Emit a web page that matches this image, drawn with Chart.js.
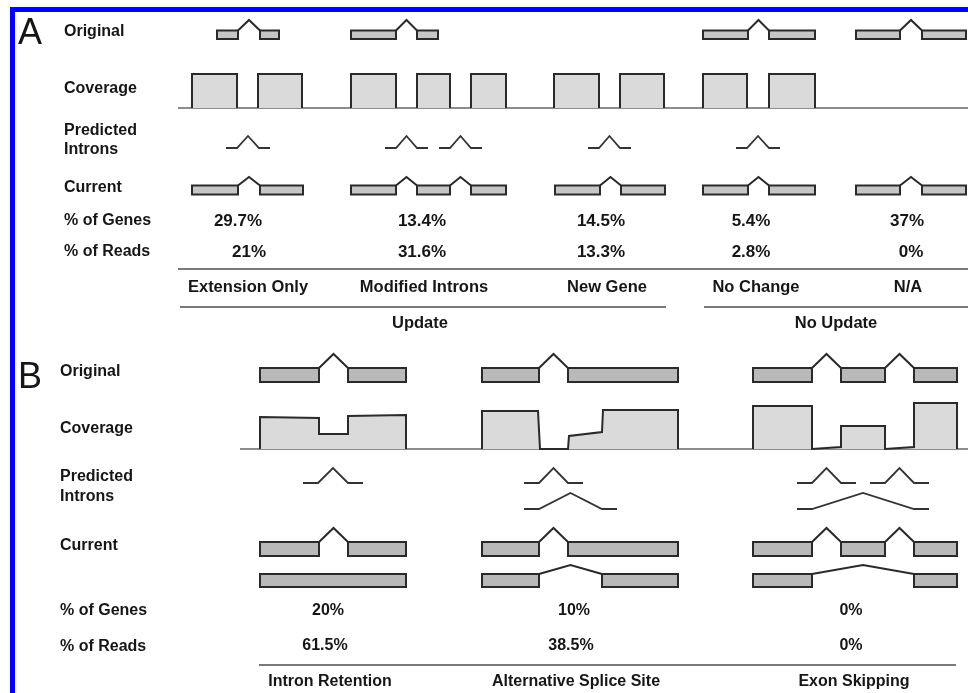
<!DOCTYPE html>
<html>
<head>
<meta charset="utf-8">
<script src="https://cdn.jsdelivr.net/npm/chart.js@4.4.1/dist/chart.umd.min.js"></script>
<style>
html,body{margin:0;padding:0;background:#fff;}
#wrap{width:968px;height:693px;position:relative;}
</style>
</head>
<body>
<div id="wrap"><canvas id="c" width="968" height="693"></canvas></div>
<script>
// ---------------- DATA ----------------
// Panel A
const categoriesA = ['Extension Only', 'Modified Introns', 'New Gene', 'No Change', 'N/A'];
const genesPctA = [29.7, 13.4, 14.5, 5.4, 37];
const readsPctA = [21, 31.6, 13.3, 2.8, 0];
const groupsA = ['Update', 'No Update'];
const rowLabelsA = ['Original', 'Coverage', 'Predicted', 'Introns', 'Current', '% of Genes', '% of Reads'];
// gene models (exon intervals in diagram units), one entry per category
const originalA = [[[217,238],[260,279]], [[351,396],[417,438]], [], [[703,748],[769,815]], [[856,900],[922,966]]];
const coverageA = [[[192,237],[258,302]], [[351,396],[417,450],[471,506]], [[554,599],[620,664]], [[703,747],[769,815]], []];
const coverageDepthA = 34;
const predictedA = [[[237,259]], [[396,417],[450,471]], [[599,620]], [[747,769]], []];
const currentA = [[[192,238],[260,303]], [[351,396],[417,450],[471,506]], [[555,600],[621,665]], [[703,748],[769,815]], [[856,900],[922,966]]];

// Panel B
const categoriesB = ['Intron Retention', 'Alternative Splice Site', 'Exon Skipping'];
const genesPctB = [20, 10, 0];
const readsPctB = [61.5, 38.5, 0];
const rowLabelsB = ['Original', 'Coverage', 'Predicted', 'Introns', 'Current', '% of Genes', '% of Reads'];
const originalB = [[[260,319],[348,406]], [[482,539],[568,678]], [[753,812],[841,885],[914,957]]];
// coverage profiles: [position, depth]
const coverageB = [
  [[260,0],[260,32],[319,31],[319,15],[348,15],[348,33],[406,34],[406,0]],
  [[482,0],[482,38],[538,38],[540,0],[568,0],[569,13],[602,17],[603,39],[678,39],[678,0]],
  [[753,0],[753,43],[812,43],[812,0],[841,2],[841,23],[885,23],[885,0],[914,2],[914,46],[957,46],[957,0]]
];
const predictedB1 = [[[318,348]], [[539,568]], [[812,841],[885,914]]];
const predictedB2 = [[], [[539,602]], [[812,914]]];
const currentB1 = originalB;
const currentB2 = [[[260,406]], [[482,539],[602,678]], [[753,812],[914,957]]];

// ---------------- LAYOUT (diagram units) ----------------
const L = {
  A: {
    orig: {top:30.5, bot:39, peak:20},
    cov: {base:108, x0:178},
    pred: {base:148, peak:136, flank:11},
    cur: {top:185.5, bot:194.5, peak:177},
    labelX: 64,
    labelY: [32, 88.5, 131, 149.5, 187.5, 221, 251.5],
    genesX: [238, 422, 601, 751, 907], genesY: 221,
    readsX: [249, 422, 601, 751, 911], readsY: 252,
    sep1: {y:269, x0:178, x1:968},
    catX: [248, 424, 607, 756, 908], catY: 287,
    sep2: [{y:307, x0:180, x1:666}, {y:307, x0:704, x1:968}],
    groupX: [420, 836], groupY: 323.5,
    letter: {x:18, y:34}
  },
  B: {
    orig: {top:368, bot:382, peak:354},
    cov: {base:449, x0:240},
    pred1: {base:483, peak:468, flank:15},
    pred2: {base:509, peak:493, flank:15},
    cur1: {top:542, bot:556, peak:528},
    cur2: {top:574, bot:587, peak:565},
    labelX: 60,
    labelY: [372, 428.5, 476.5, 496.5, 545.5, 611, 646.5],
    genesX: [328, 574, 851], genesY: 610.5,
    readsX: [325, 571, 851], readsY: 646,
    sep: {y:665, x0:259, x1:956},
    catX: [330, 576, 854], catY: 682,
    letter: {x:18, y:378.5}
  }
};

const EDGE = '#2a2a2a';
const EXON_A = '#c6c6c6';
const EXON_B = '#b9b9b9';
const COV = '#dadada';
const SEP = '#7a7a7a';

// ---------------- DATASET BUILDERS ----------------
const datasets = [];
function line(points, color, width, order) {
  datasets.push({
    data: points.map(p => ({x:p[0], y:p[1]})),
    showLine: true, pointRadius: 0, borderColor: color, borderWidth: width,
    fill: false, order: order || 0, borderJoinStyle: 'miter', tension: 0
  });
}
function filled(points, base, fillColor, order) {
  datasets.push({
    data: points.map(p => ({x:p[0], y:p[1]})),
    showLine: true, pointRadius: 0, borderColor: EDGE, borderWidth: 2,
    backgroundColor: fillColor, fill: {value: base}, order: order || 1,
    borderJoinStyle: 'miter', tension: 0
  });
}
function geneModel(exons, g, fillColor) {
  exons.forEach(e => {
    filled([[e[0],g.bot],[e[0],g.top],[e[1],g.top],[e[1],g.bot]], g.bot, fillColor, 1);
    line([[e[0]-1,g.bot],[e[1]+1,g.bot]], EDGE, 2, 0);
  });
  for (let i = 0; i + 1 < exons.length; i++) {
    const a = exons[i][1], b = exons[i+1][0];
    line([[a,g.top],[(a+b)/2,g.peak],[b,g.top]], EDGE, 2, 0);
  }
}
function junctions(introns, p) {
  introns.forEach(j => {
    const a = j[0], b = j[1];
    line([[a-p.flank,p.base],[a,p.base],[(a+b)/2,p.peak],[b,p.base],[b+p.flank,p.base]], '#333', 1.8, 0);
  });
}

// Panel A
originalA.forEach(ex => geneModel(ex, L.A.orig, EXON_A));
currentA.forEach(ex => geneModel(ex, L.A.cur, EXON_A));
predictedA.forEach(ints => junctions(ints, L.A.pred));
coverageA.forEach(ex => ex.forEach(e => {
  const b = L.A.cov.base, t = b - coverageDepthA;
  filled([[e[0],b],[e[0],t],[e[1],t],[e[1],b]], b, COV, 1);
}));
line([[L.A.cov.x0, L.A.cov.base],[968, L.A.cov.base]], '#666', 1.4, 5);
line([[L.A.sep1.x0, L.A.sep1.y],[L.A.sep1.x1, L.A.sep1.y]], SEP, 2.2, 5);
L.A.sep2.forEach(s => line([[s.x0,s.y],[s.x1,s.y]], SEP, 2.2, 5));

// Panel B
originalB.forEach(ex => geneModel(ex, L.B.orig, EXON_B));
currentB1.forEach(ex => geneModel(ex, L.B.cur1, EXON_B));
currentB2.forEach(ex => geneModel(ex, L.B.cur2, EXON_B));
predictedB1.forEach(ints => junctions(ints, L.B.pred1));
predictedB2.forEach(ints => junctions(ints, L.B.pred2));
coverageB.forEach(prof => {
  const b = L.B.cov.base;
  filled(prof.map(p => [p[0], b - p[1]]), b, COV, 1);
});
line([[L.B.cov.x0, L.B.cov.base],[968, L.B.cov.base]], '#666', 1.4, 5);
line([[L.B.sep.x0, L.B.sep.y],[L.B.sep.x1, L.B.sep.y]], SEP, 2.2, 5);

// blue frame
line([[12.5,693],[12.5,9.5],[968,9.5]], '#0000ff', 5, 6);

// ---------------- TEXT PLUGIN ----------------
const pct = v => v + '%';
const FONT16 = 'bold 16px "Liberation Sans", Arial, sans-serif';
const FONT17 = 'bold 17px "Liberation Sans", Arial, sans-serif';
const FONT165 = 'bold 16.5px "Liberation Sans", Arial, sans-serif';
const textPlugin = {
  id: 'texts',
  afterDatasetsDraw(chart) {
    const ctx = chart.ctx, xs = chart.scales.x, ys = chart.scales.y;
    const T = (s, x, y, align, font) => {
      ctx.font = font || FONT16;
      ctx.textAlign = align || 'center';
      ctx.textBaseline = 'middle';
      ctx.fillStyle = '#161616';
      ctx.fillText(s, xs.getPixelForValue(x), ys.getPixelForValue(y));
    };
    ctx.save();
    const big = '36px "Liberation Sans", Arial, sans-serif';
    T('A', L.A.letter.x, L.A.letter.y, 'left', big);
    T('B', L.B.letter.x, L.B.letter.y, 'left', big);
    rowLabelsA.forEach((s, i) => T(s, L.A.labelX, L.A.labelY[i], 'left'));
    rowLabelsB.forEach((s, i) => T(s, L.B.labelX, L.B.labelY[i], 'left'));
    genesPctA.forEach((v, i) => T(pct(v), L.A.genesX[i], L.A.genesY, 'center', FONT17));
    readsPctA.forEach((v, i) => T(pct(v), L.A.readsX[i], L.A.readsY, 'center', FONT17));
    categoriesA.forEach((s, i) => T(s, L.A.catX[i], L.A.catY, 'center', FONT165));
    groupsA.forEach((s, i) => T(s, L.A.groupX[i], L.A.groupY, 'center', FONT165));
    genesPctB.forEach((v, i) => T(pct(v), L.B.genesX[i], L.B.genesY));
    readsPctB.forEach((v, i) => T(pct(v), L.B.readsX[i], L.B.readsY));
    categoriesB.forEach((s, i) => T(s, L.B.catX[i], L.B.catY));
    ctx.restore();
  }
};

new Chart(document.getElementById('c'), {
  type: 'scatter',
  data: { datasets },
  options: {
    responsive: false,
    animation: false,
    events: [],
    layout: { padding: 0 },
    scales: {
      x: { type: 'linear', min: 0, max: 968, display: false },
      y: { type: 'linear', min: 0, max: 693, reverse: true, display: false }
    },
    plugins: { legend: {display: false}, tooltip: {enabled: false} },
    elements: { line: { clip: false } }
  },
  plugins: [textPlugin]
});
</script>
</body>
</html>
